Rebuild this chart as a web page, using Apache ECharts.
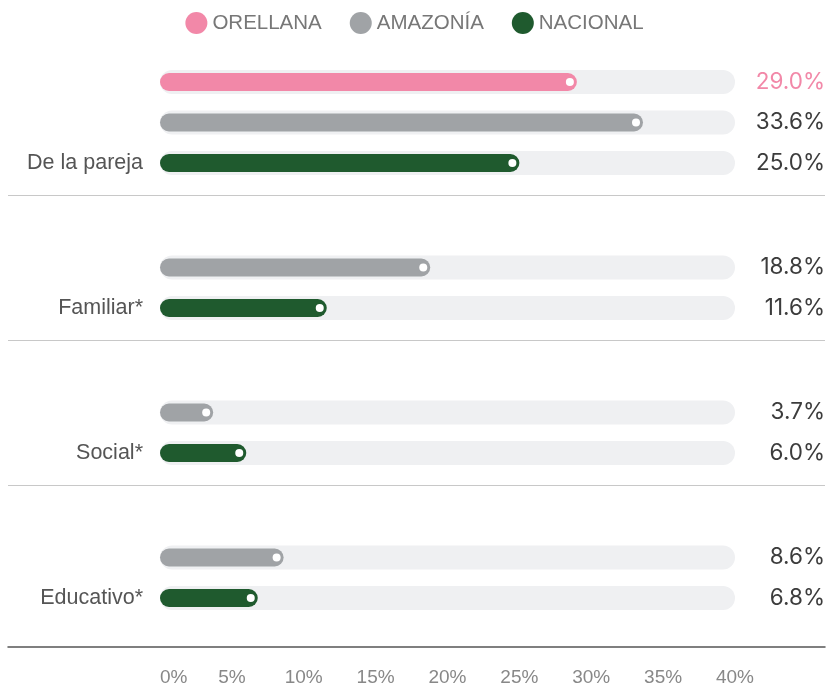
<!DOCTYPE html>
<html>
<head>
<meta charset="utf-8">
<title>Tipos de violencia</title>
<script src="https://cdn.jsdelivr.net/npm/echarts@6/dist/echarts.min.js"></script>
<style>
  html, body { margin: 0; padding: 0; background: #fff; }
  #chart { width: 829px; height: 688px; }
</style>
</head>
<body>
<div id="chart"></div>
<script>
// datos
var categories = ['De la pareja', 'Familiar*', 'Social*', 'Educativo*'];
var seriesNames = ['ORELLANA', 'AMAZONÍA', 'NACIONAL'];
var orellana = [29.0, null, null, null];
var amazonia = [33.6, 18.8, 3.7, 8.6];
var nacional = [25.0, 11.6, 6.0, 6.8];
var xTicks = [0, 5, 10, 15, 20, 25, 30, 35, 40];
var trackMax = 40;

var colors = ['#f288a8', '#a0a3a6', '#1f5a2e'];
var labelColors = ['#f288a8', '#3c3c3c', '#3c3c3c'];
var values = [orellana, amazonia, nacional];

var chart = echarts.init(document.getElementById('chart'));
var series = [];

// pistas de fondo (eje y 1)
values.forEach(function (vals, i) {
  series.push({
    name: seriesNames[i] + '_bg',
    type: 'bar',
    xAxisIndex: 0,
    yAxisIndex: 1,
    barWidth: 24,
    barGap: '68.75%',
    silent: true,
    z: 1,
    itemStyle: { color: '#eff0f2', borderRadius: 12 },
    label: {
      show: true,
      position: [665, '50%'],
      align: 'right',
      verticalAlign: 'middle',
      fontSize: 22.5,
      fontFamily: 'Inter',
      color: labelColors[i],
      formatter: function (p) {
        var v = vals[p.dataIndex];
        return v == null ? '' : v.toFixed(1) + '%';
      }
    },
    data: vals.map(function (v) { return v == null ? null : trackMax; })
  });
});

// barras de valor (eje y 0)
values.forEach(function (vals, i) {
  series.push({
    name: seriesNames[i],
    type: 'bar',
    xAxisIndex: 0,
    yAxisIndex: 0,
    barWidth: 18,
    barGap: '125%',
    z: 3,
    itemStyle: { color: colors[i], borderRadius: 9 },
    label: {
      show: true,
      position: 'insideRight',
      distance: 3,
      formatter: '{d|}',
      rich: { d: { width: 8, height: 8, borderRadius: 4, backgroundColor: '#fff' } }
    },
    data: vals
  });
});

var option = {
  animation: false,
  color: colors,
  legend: {
    top: 7,
    left: 'center',
    icon: 'circle',
    itemWidth: 22,
    itemHeight: 22,
    itemGap: 28,
    data: seriesNames,
    textStyle: { fontSize: 20.5, color: '#777', fontFamily: 'Liberation Sans' }
  },
  grid: [
    { left: 160, right: 94, top: 50, bottom: 58 },
    { left: 8, right: 4, top: 195, bottom: 203 }
  ],
  xAxis: [
    {
      type: 'value', gridIndex: 0, min: 0, max: 40, interval: 5,
      axisLine: { show: false }, axisTick: { show: false }, splitLine: { show: false },
      axisLabel: { margin: 38, fontSize: 19, color: '#888', fontFamily: 'Liberation Sans',
        alignMinLabel: 'left', formatter: '{value}%' }
    },
    {
      type: 'value', gridIndex: 1, min: 0, max: 1, position: 'bottom', offset: 162,
      axisLine: { show: true, lineStyle: { color: '#555', width: 1.5 } },
      axisTick: { show: false }, axisLabel: { show: false }, splitLine: { show: false }
    }
  ],
  yAxis: [
    {
      type: 'category', gridIndex: 0, inverse: true, data: categories,
      axisLine: { show: false }, axisTick: { show: false },
      axisLabel: {
        margin: 17, color: '#555',
        formatter: function (v) { return '{s| }\n{t|' + v + '}'; },
        rich: {
          s: { lineHeight: 82, fontSize: 1 },
          t: { lineHeight: 22, fontSize: 21.5, color: '#555', fontFamily: 'Liberation Sans' }
        }
      }
    },
    {
      type: 'category', gridIndex: 0, inverse: true, data: categories,
      show: false
    },
    {
      type: 'value', gridIndex: 1, min: 1, max: 3, interval: 1,
      axisLine: { show: false }, axisTick: { show: false }, axisLabel: { show: false },
      splitLine: { show: true, lineStyle: { color: '#c8c8c8', width: 1.2 } }
    }
  ],
  series: series
};

chart.setOption(option);
</script>
</body>
</html>
